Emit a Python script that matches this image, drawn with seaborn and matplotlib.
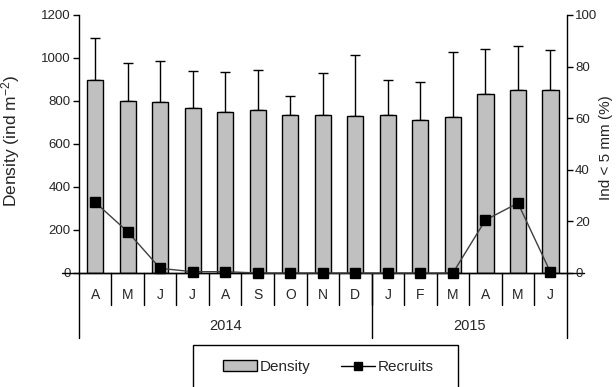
import numpy as np
import pandas as pd
import matplotlib
matplotlib.use("Agg")
import matplotlib.pyplot as plt
import matplotlib.transforms as mtransforms
from matplotlib.patches import Patch, Rectangle
from matplotlib.lines import Line2D
import seaborn as sns

# Monthly sampling, April 2014 - June 2015
months = ["A", "M", "J", "J", "A", "S", "O", "N", "D", "J", "F", "M", "A", "M", "J"]
years = ["2014", "2015"]
months_per_year = [9, 6]
density = [898, 801, 795, 766, 747, 760, 735, 736, 730, 736, 713, 725, 832, 851, 851]
density_sd = [196, 177, 191, 174, 188, 184, 90, 194, 284, 163, 175, 301, 211, 204, 186]
recruits = [27.4, 16.0, 1.8, 0.5, 0.5, 0.0, 0.0, 0.0, 0.0, 0.0, 0.0, 0.0, 20.5, 27.1, 0.3]

sns.set_theme(style="white")
plt.rcParams["font.family"] = ["Liberation Sans", "DejaVu Sans"]
plt.rcParams["mathtext.fontset"] = "custom"
plt.rcParams["mathtext.rm"] = "Liberation Sans"
plt.rcParams["mathtext.default"] = "regular"

df = pd.DataFrame({"pos": np.arange(len(months)), "density": density})

fig = plt.figure(figsize=(6.16, 3.87), dpi=100)
ax = fig.add_axes([0.128, 0.2946, 0.792, 0.6667])

sns.barplot(data=df, x="pos", y="density", color="#c0c0c0", edgecolor="black",
            linewidth=1.0, width=0.5, saturation=1, errorbar=None, ax=ax, zorder=2)
ax.errorbar(df["pos"], density, yerr=[np.zeros(len(density)), density_sd],
            fmt="none", ecolor="black", elinewidth=1.0, capsize=3.5, capthick=1.0, zorder=1)

ax.set_xlim(-0.5, len(months) - 0.5)
ax.set_ylim(0, 1200)
ax.set_yticks(np.arange(0, 1201, 200))
ax.set_ylabel("Density (ind m$^{-2}$)", fontsize=12.5)
ax.yaxis.set_label_coords(-0.117, 0.512)
ax.set_xlabel("")
ax.set_xticks(np.arange(len(months)))
ax.set_xticklabels(months)
ax.tick_params(axis="x", length=0, pad=11, labelsize=10)
ax.tick_params(axis="y", direction="out", length=4, width=1, color="black", left=True,
               pad=2, labelsize=9.5)
for s in ["top", "right"]:
    ax.spines[s].set_visible(False)
for s in ["left", "bottom"]:
    ax.spines[s].set_color("black")
    ax.spines[s].set_linewidth(1.0)

# Category separators and year groupings below the axis
trans = mtransforms.blended_transform_factory(ax.transData, ax.transAxes)
for b in np.arange(0.5, len(months) - 1, 1):
    ax.add_line(Line2D([b, b], [0, -0.124], transform=trans, color="black",
                       lw=1.0, clip_on=False))
bounds = np.concatenate([[0], np.cumsum(months_per_year)]) - 0.5
for b in bounds:
    ax.add_line(Line2D([b, b], [0, -0.252], transform=trans, color="black",
                       lw=1.0, clip_on=False))
for i, y in enumerate(years):
    ax.text((bounds[i] + bounds[i + 1]) / 2, -0.205, y, transform=trans,
            ha="center", va="center", fontsize=10.5)
# extend the zero line past both spines like tick marks
ax.add_line(Line2D([-0.035, 1.035], [0, 0], transform=ax.transAxes, color="black",
                   lw=1.0, clip_on=False))

ax2 = ax.twinx()
ax2.plot(df["pos"], recruits, color="#404040", lw=1.0, marker="s", markersize=7,
         markerfacecolor="black", markeredgecolor="black", zorder=5, clip_on=False)
ax2.set_ylim(0, 100)
ax2.set_yticks(np.arange(0, 101, 20))
ax2.set_ylabel("Ind < 5 mm (%)", fontsize=11)
ax2.yaxis.set_label_coords(1.066, 0.486)
ax2.tick_params(axis="y", direction="out", length=4, width=1, color="black", right=True,
                pad=2, labelsize=9.5)
for s in ["top", "left", "bottom"]:
    ax2.spines[s].set_visible(False)
ax2.spines["right"].set_color("black")
ax2.spines["right"].set_linewidth(1.0)
ax2.grid(False)
ax.grid(False)

handles = [Patch(facecolor="#c0c0c0", edgecolor="black", linewidth=1.0, label="Density"),
           Line2D([0], [0], color="black", lw=1.0, marker="s", markersize=6, label="Recruits")]
leg = fig.legend(handles=handles, loc="center", bbox_to_anchor=(0.533, 0.052),
                 ncol=2, frameon=False, fontsize=11, handlelength=2.2,
                 handletextpad=0.2, columnspacing=2.0, borderpad=0, borderaxespad=0)
# legend box, running off the bottom edge
fig.patches.append(Rectangle((0.3133, -0.08), 0.430, 0.1885, transform=fig.transFigure,
                             fill=False, edgecolor="black", linewidth=1.0))

fig.savefig("out.png", dpi=100)
